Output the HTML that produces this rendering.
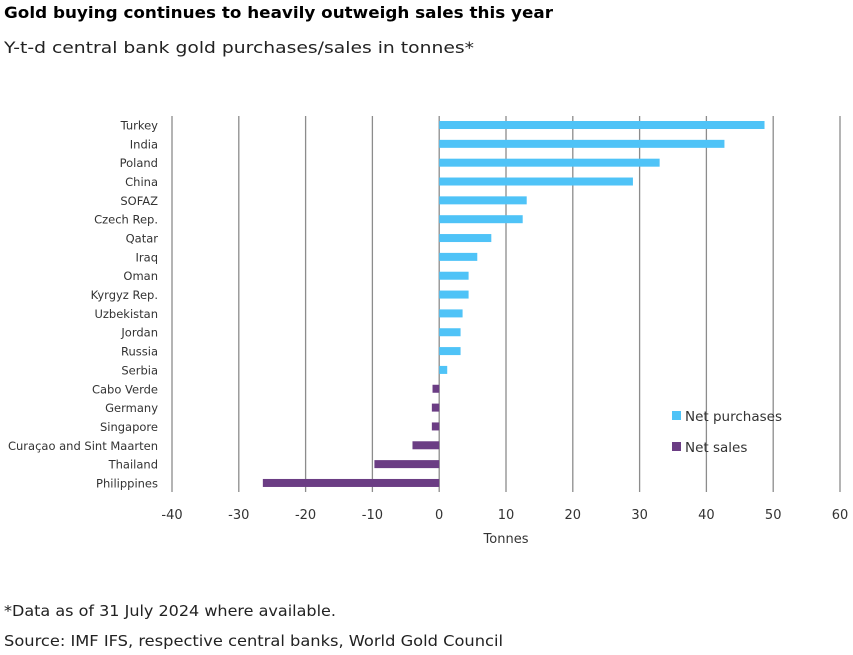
<!DOCTYPE html>
<html><head><meta charset="utf-8"><style>
body{margin:0;background:#fff;font-family:"DejaVu Sans","Liberation Sans",sans-serif;}
svg text{font-family:"DejaVu Sans","Liberation Sans",sans-serif;}
</style></head><body>
<svg width="853" height="651" viewBox="0 0 853 651" xmlns="http://www.w3.org/2000/svg">
<text x="4" y="18" font-size="16" font-weight="bold" fill="#000" textLength="549" lengthAdjust="spacingAndGlyphs">Gold buying continues to heavily outweigh sales this year</text>
<text x="4" y="53" font-size="16" fill="#222" textLength="470" lengthAdjust="spacingAndGlyphs">Y-t-d central bank gold purchases/sales in tonnes*</text>
<g id="grid"></g><g id="bars"></g><g id="labels"></g><g id="ticks"></g>
<text x="506" y="543" font-size="13" fill="#333" text-anchor="middle">Tonnes</text>
<rect x="672" y="411" width="9" height="9" fill="#4fc3f7"/>
<text x="685" y="421" font-size="13.5" fill="#333">Net purchases</text>
<rect x="672" y="442" width="9" height="9" fill="#6b3d84"/>
<text x="685" y="452" font-size="13.5" fill="#333">Net sales</text>
<text x="4" y="616" font-size="15" fill="#222" textLength="332" lengthAdjust="spacingAndGlyphs">*Data as of 31 July 2024 where available.</text>
<text x="4" y="646" font-size="15" fill="#222" textLength="499" lengthAdjust="spacingAndGlyphs">Source: IMF IFS, respective central banks, World Gold Council</text>
</svg>
<script>
const categories=["Turkey","India","Poland","China","SOFAZ","Czech Rep.","Qatar","Iraq","Oman","Kyrgyz Rep.","Uzbekistan","Jordan","Russia","Serbia","Cabo Verde","Germany","Singapore","Curaçao and Sint Maarten","Thailand","Philippines"];
const values=[48.7,42.7,33,29,13.1,12.5,7.8,5.7,4.4,4.4,3.5,3.2,3.2,1.2,-1,-1.1,-1.1,-4,-9.7,-26.4];
const tickValues=[-40,-30,-20,-10,0,10,20,30,40,50,60];
const NS="http://www.w3.org/2000/svg";
const xs=v=>172+(v+40)*(840-172)/100;
const ys=i=>125+i*18.84;
const yTop=116,yBottom=492;
function mk(t,a,p){const e=document.createElementNS(NS,t);for(const k in a)e.setAttribute(k,a[k]);p.appendChild(e);return e;}
const G=document.getElementById('grid'),B=document.getElementById('bars'),L=document.getElementById('labels'),T=document.getElementById('ticks');
tickValues.forEach(v=>{
 const l=mk('line',{x1:xs(v),x2:xs(v),y1:yTop,y2:yBottom,stroke:'#8c8c8c','stroke-width':1.3},G);
 
 
 const t=mk('text',{x:xs(v),y:519,'font-size':13,fill:'#333','text-anchor':'middle'},T);
 t.textContent=v;
 
 
});
categories.forEach((c,i)=>{
 const v=values[i];
 const r=mk('rect',{x:Math.min(xs(0),xs(v)),y:ys(i)-4,width:Math.abs(xs(v)-xs(0)),height:8,fill:v>=0?'#4fc3f7':'#6b3d84'},B);
 
 
 const t=mk('text',{x:158,y:ys(i)+4.5,'font-size':11.5,fill:'#333','text-anchor':'end'},L);
 t.textContent=c;
 
 
});
</script>
</body></html>
